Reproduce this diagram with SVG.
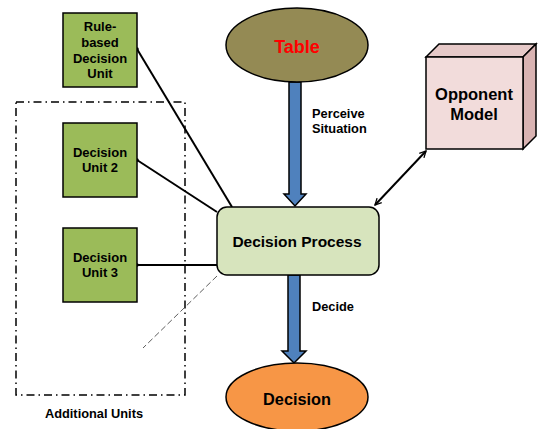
<svg xmlns="http://www.w3.org/2000/svg" width="552" height="429" viewBox="0 0 552 429">
<defs>
<style>
text{font-family:"Liberation Sans",Arial,sans-serif;font-weight:bold;fill:#000;text-anchor:middle}
.unit{fill:#9bbb59;stroke:#000;stroke-width:1.5}
.link{stroke:#000;stroke-width:2;fill:none}
.big{fill:#4f81bd;stroke:#000;stroke-width:1.5}
.lbl{font-size:12.8px;text-anchor:start}
.ut{font-size:13px}
</style>
<marker id="ah" viewBox="0 0 10 10" refX="9" refY="5" markerWidth="8" markerHeight="8" orient="auto-start-reverse" markerUnits="userSpaceOnUse">
<path d="M1,1 L9,5 L1,9" fill="none" stroke="#000" stroke-width="1.6"/>
</marker>
</defs>
<rect width="552" height="429" fill="#fff"/>

<g id="additional-units">
<rect x="16" y="102" width="169" height="293" fill="none" stroke="#000" stroke-width="1.5" stroke-dasharray="8,4,1.5,4"/>
<text x="94" y="418" font-size="12.8">Additional Units</text>
</g>

<g id="connectors">
<line class="link" x1="137" y1="49" x2="232" y2="207"/>
<line class="link" x1="137" y1="160" x2="217" y2="212"/>
<line class="link" x1="137" y1="265" x2="217" y2="265"/>
<circle cx="137" cy="49" r="1.8"/>
<circle cx="137" cy="160" r="1.8"/>
<circle cx="137" cy="265" r="1.8"/>
<line x1="217" y1="276" x2="143" y2="348" stroke="#333" stroke-width="0.8" stroke-dasharray="6,3"/>
<line class="link" x1="426" y1="151" x2="375" y2="205" stroke-width="1.8" marker-start="url(#ah)" marker-end="url(#ah)"/>
<polygon class="big" points="289,82 301,82 301,194 306,194 295,206 284,194 289,194"/>
<polygon class="big" points="288,275 300,275 300,351 306,351 294,363 282,351 288,351"/>
<text class="lbl" x="312" y="118">Perceive</text>
<text class="lbl" x="312" y="133">Situation</text>
<text class="lbl" x="312" y="311">Decide</text>
</g>

<g id="rule-based">
<rect class="unit" x="63" y="13" width="74" height="74"/>
<text class="ut" x="100" y="31">Rule-</text>
<text class="ut" x="100" y="47">based</text>
<text class="ut" x="100" y="63">Decision</text>
<text class="ut" x="100" y="78">Unit</text>
</g>

<g id="unit2">
<rect class="unit" x="63" y="123" width="74" height="74"/>
<text class="ut" x="100" y="157">Decision</text>
<text class="ut" x="100" y="172">Unit 2</text>
</g>

<g id="unit3">
<rect class="unit" x="63" y="228" width="74" height="74"/>
<text class="ut" x="100" y="262">Decision</text>
<text class="ut" x="100" y="277">Unit 3</text>
</g>

<g id="table">
<ellipse cx="297" cy="45" rx="71" ry="37" fill="#948a54" stroke="#000" stroke-width="1.5"/>
<text x="297" y="53" font-size="18" style="fill:#ff0000">Table</text>
</g>

<g id="opponent">
<polygon points="426,57 439,44 536,44 523,57" fill="#e6c9c8" stroke="#000" stroke-width="1.5"/>
<polygon points="523,57 536,44 536,136 523,149" fill="#d9b3b2" stroke="#000" stroke-width="1.5"/>
<rect x="426" y="57" width="97" height="92" fill="#f2dcdb" stroke="#000" stroke-width="1.5"/>
<text x="474" y="100" font-size="16.5">Opponent</text>
<text x="474" y="120" font-size="16.5">Model</text>
</g>

<g id="decision-process">
<rect x="217" y="207" width="162" height="68" rx="10" fill="#d7e4bd" stroke="#000" stroke-width="1.5"/>
<text x="297" y="247" font-size="15.5">Decision Process</text>
</g>

<g id="decision">
<ellipse cx="297" cy="397" rx="71" ry="34" fill="#f79646" stroke="#000" stroke-width="1.5"/>
<text x="297" y="405" font-size="16.3">Decision</text>
</g>
</svg>
